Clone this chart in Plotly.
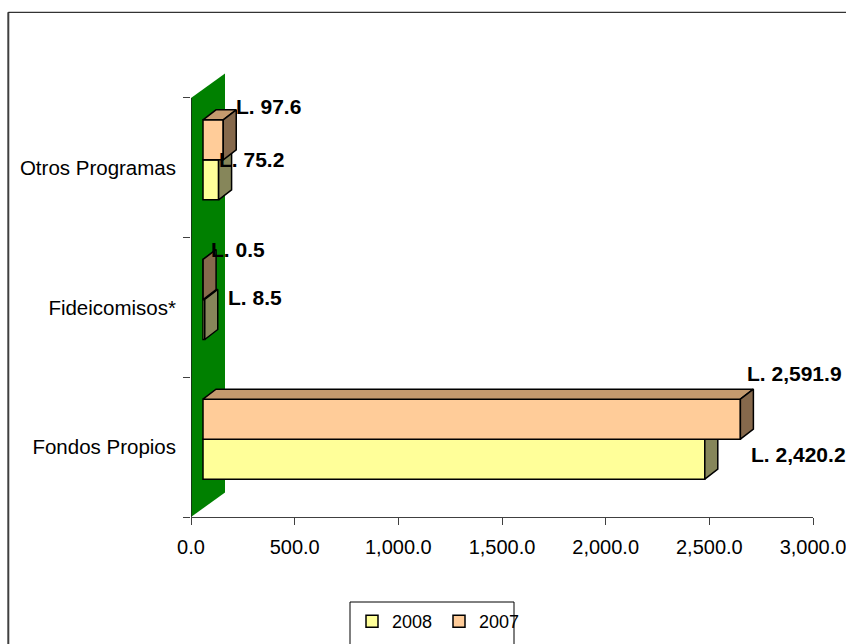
import plotly.graph_objects as go

# ---- data -------------------------------------------------------------
categories = ["Fondos Propios", "Fideicomisos*", "Otros Programas"]
series_names = ["2008", "2007"]
values_2008 = [2420.2, 8.5, 75.2]
values_2007 = [2591.9, 0.5, 97.6]
x_tick_values = [0, 500, 1000, 1500, 2000, 2500, 3000]
x_tick_labels = ["0.0", "500.0", "1,000.0", "1,500.0", "2,000.0", "2,500.0", "3,000.0"]

# ---- geometry (pixels) -------------------------------------------------
W, H = 846, 644
M_L, M_R, M_T, M_B = 191, 33, 60, 127
PLOT_W = W - M_L - M_R
PLOT_H = H - M_T - M_B
X_MAX = 3000
CAT_PX = 139.67                 # height of one category band
Y_MAX = PLOT_H / CAT_PX
UX = X_MAX / PLOT_W             # value units per pixel
UY = 1.0 / CAT_PX               # category units per pixel

WALL_DX, WALL_DY = 34, 24.5     # depth of the side wall
FRONT_DX, FRONT_DY = 12, 8      # bars sit this far into the depth
BAR_DX, BAR_DY = 13, 10         # thickness of each bar
BAR_PX = 40
BH = BAR_PX * UY

FONT = "Liberation Sans, Arial, sans-serif"
cat_pos = [i + 0.5 for i in range(len(categories))]

styles = {
    "2008": dict(front="#FFFF99", top="#C4C476", side="#86865A", low=True),
    "2007": dict(front="#FFCC99", top="#C49A6E", side="#86694C", low=False),
}
# label offsets (px) from the front end of each bar
label_shift_2008 = [(44, 5), (21, 22), (-2, 20)]
label_shift_2007 = [(5, 46), (6, 30), (11, 33)]


def px_x(p):
    return (p - M_L) / PLOT_W


def px_y(p):
    return (H - M_B - p) / PLOT_H


fig = go.Figure()

# green side wall and the category axis line
wdx, wdy = WALL_DX * UX, WALL_DY * UY
n_cat = len(categories)
fig.add_trace(go.Scatter(
    x=[0, wdx, wdx, 0, 0], y=[0, wdy, n_cat + wdy, n_cat, 0],
    fill="toself", fillcolor="#008000", mode="lines", line=dict(width=0),
    showlegend=False, hoverinfo="skip", xaxis="x", yaxis="y"))
fig.add_trace(go.Scatter(
    x=[0, 0], y=[0, n_cat], mode="lines", line=dict(color="#202020", width=1.5),
    showlegend=False, hoverinfo="skip", xaxis="x", yaxis="y"))

annotations = []
series = [("2008", values_2008, label_shift_2008, "2"),
          ("2007", values_2007, label_shift_2007, "3")]
for name, vals, shifts, ax in series:
    st = styles[name]
    off = -BH if st["low"] else 0.0
    fig.add_trace(go.Bar(
        x=vals, y=cat_pos, orientation="h", width=BH, offset=off, name=name,
        marker=dict(color=st["front"], line=dict(color="black", width=1.5)),
        xaxis="x" + ax, yaxis="y" + ax, hoverinfo="x+name"))
    dx, dy = BAR_DX * UX, BAR_DY * UY
    tx, ty, sx, sy = [], [], [], []
    for c, v in zip(cat_pos, vals):
        y0 = c + off
        y1 = y0 + BH
        tx += [0, dx, v + dx, v, 0, None]
        ty += [y1, y1 + dy, y1 + dy, y1, y1, None]
        sx += [v, v + dx, v + dx, v, v, None]
        sy += [y0, y0 + dy, y1 + dy, y1, y0, None]
    for fx, fy, col in ((tx, ty, st["top"]), (sx, sy, st["side"])):
        fig.add_trace(go.Scatter(
            x=fx, y=fy, fill="toself", fillcolor=col, mode="lines",
            line=dict(color="black", width=1.5), showlegend=False,
            hoverinfo="skip", xaxis="x" + ax, yaxis="y" + ax))
    for c, v, (xs, ys) in zip(cat_pos, vals, shifts):
        annotations.append(dict(
            x=v, y=c + off + BH / 2, xref="x" + ax, yref="y" + ax,
            text=f"L. {v:,.1f}", showarrow=False, xanchor="left",
            yanchor="middle", xshift=xs, yshift=ys,
            font=dict(family=FONT, size=21, color="black", weight="bold")))

shift_x = [-FRONT_DX * UX, X_MAX - FRONT_DX * UX]
shift_y = [-FRONT_DY * UY, Y_MAX - FRONT_DY * UY]
hidden = dict(visible=False, fixedrange=True, showgrid=False, zeroline=False)

shapes = [
    # chart frame
    dict(type="line", xref="paper", yref="paper", x0=px_x(8.3), x1=px_x(8.3),
         y0=px_y(12.3), y1=px_y(660), line=dict(color="#404040", width=2)),
    dict(type="line", xref="paper", yref="paper", x0=px_x(8.3), x1=px_x(860),
         y0=px_y(12.3), y1=px_y(12.3), line=dict(color="black", width=1)),
    # legend box
    dict(type="rect", xref="paper", yref="paper", x0=px_x(350), x1=px_x(514),
         y0=px_y(660), y1=px_y(602), line=dict(color="black", width=1)),
]

fig.update_layout(
    width=W, height=H,
    margin=dict(l=M_L, r=M_R, t=M_T, b=M_B, pad=0, autoexpand=False),
    paper_bgcolor="white", plot_bgcolor="white",
    barmode="overlay",
    font=dict(family=FONT, color="black"),
    xaxis=dict(range=[0, X_MAX], tickvals=x_tick_values, ticktext=x_tick_labels,
               ticks="outside", ticklen=7, tickcolor="#404040", tickwidth=1,
               showline=True, linecolor="#404040", linewidth=1.2,
               showgrid=False, zeroline=False, fixedrange=True,
               ticklabeloverflow="allow",
               ticklabelstandoff=5, tickfont=dict(family=FONT, size=20, color="black")),
    yaxis=dict(range=[0, Y_MAX], tickvals=cat_pos, ticktext=categories,
               ticks="", showline=False, showgrid=False, zeroline=False,
               fixedrange=True, ticklabelstandoff=14,
               tickfont=dict(family=FONT, size=20.5, color="black"),
               minor=dict(tickvals=[0, 1, 2, 3], ticks="outside", ticklen=7,
                          tickcolor="#404040", tickwidth=1)),
    xaxis2=dict(overlaying="x", anchor="y2", range=shift_x, **hidden),
    yaxis2=dict(overlaying="y", anchor="x2", range=shift_y, **hidden),
    xaxis3=dict(overlaying="x", anchor="y3", range=shift_x, **hidden),
    yaxis3=dict(overlaying="y", anchor="x3", range=shift_y, **hidden),
    legend=dict(orientation="h", x=px_x(352), y=px_y(603), xanchor="left",
                yanchor="top", bgcolor="rgba(0,0,0,0)", borderwidth=0,
                font=dict(family=FONT, size=18, color="black"),
                entrywidth=42, entrywidthmode="pixels", traceorder="normal"),
    shapes=shapes,
    annotations=annotations,
)

fig.write_html("out.html")
